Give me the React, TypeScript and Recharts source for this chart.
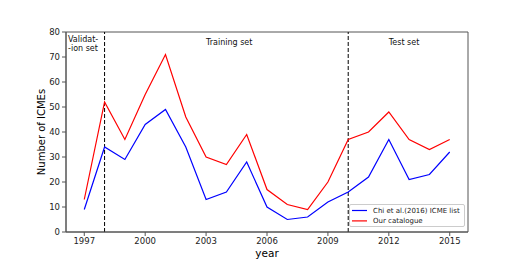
import React from "react";
import { LineChart, Line, XAxis, YAxis, ReferenceLine, ReferenceDot, ReferenceArea, Label } from "recharts";

const years = [1997, 1998, 1999, 2000, 2001, 2002, 2003, 2004, 2005, 2006, 2007, 2008, 2009, 2010, 2011, 2012, 2013, 2014, 2015];
const chiList = [9, 34, 29, 43, 49, 34, 13, 16, 28, 10, 5, 6, 12, 16, 22, 37, 21, 23, 32];
const ourCatalogue = [13, 52, 37, 55, 71, 46, 30, 27, 39, 17, 11, 9, 20, 37, 40, 48, 37, 33, 37];
const xTicks = [1997, 2000, 2003, 2006, 2009, 2012, 2015];
const yTicks = [0, 10, 20, 30, 40, 50, 60, 70, 80];
const splitYears = [1998, 2010];
const xDomain = [1996.1, 2015.9];
const yDomain = [0, 80];
const annotations = [
  { x: 1996.2, y: 72.4, lines: ["Validat-", "-ion set"] },
  { x: 2003, y: 75, lines: ["Training set"] },
  { x: 2012, y: 75, lines: ["Test set"] },
];
const seriesNames = ["Chi et al.(2016) ICME list", "Our catalogue"];
const seriesColors = ["#0000ff", "#ff0000"];

const data = years.map((y, i) => ({ year: y, chi: chiList[i], ours: ourCatalogue[i] }));

const FONT = "DejaVu Sans";
const AXIS = "#555";

const LegendBox = () => (
  <div
    style={{
      position: "absolute",
      left: 349,
      top: 204,
      border: "1px solid #ccc",
      borderRadius: 2,
      background: "rgba(255,255,255,0.8)",
      width: 116,
      height: 23,
      boxSizing: "border-box",
    }}
  >
    <svg width={114} height={21} style={{ position: "absolute", left: 0, top: 0 }}>
      {seriesNames.map((n, i) => (
        <g key={n}>
          <line x1={2} x2={17} y1={5.5 + i * 10.4} y2={5.5 + i * 10.4} stroke={seriesColors[i]} strokeWidth={1.2} />
          <text x={23} y={5.5 + i * 10.4} dominantBaseline="central" fontSize={7} fontFamily={FONT} fill="#222">
            {n}
          </text>
        </g>
      ))}
    </svg>
  </div>
);

export default function App() {
  return (
    <div style={{ position: "absolute", left: 0, top: 0, width: 521, height: 261 }}>
      <LineChart width={521} height={261} data={data} margin={{ top: 32, right: 53, bottom: 0, left: 0 }}>
        <XAxis
          dataKey="year"
          type="number"
          domain={xDomain}
          ticks={xTicks}
          interval={0}
          allowDataOverflow
          height={29}
          tickSize={4}
          tickMargin={2}
          stroke={AXIS}
          tick={{ fill: "#222", fontSize: 8.5, fontFamily: FONT }}
        >
          <Label
            content={(p: any) => {
              const vb = p.viewBox;
              return (
                <text x={vb.x + vb.width / 2} y={vb.y + vb.height - 4} textAnchor="middle" fontSize={10.5} fontFamily={FONT} fill="#000">
                  year
                </text>
              );
            }}
          />
        </XAxis>
        <YAxis
          type="number"
          domain={yDomain}
          ticks={yTicks}
          interval={0}
          width={66}
          tickSize={4}
          tickMargin={2}
          stroke={AXIS}
          tick={{ fill: "#222", fontSize: 8.5, fontFamily: FONT }}
        >
          <Label
            content={(p: any) => {
              const vb = p.viewBox;
              const cx = 41;
              const cy = vb.y + vb.height / 2;
              return (
                <text x={cx} y={cy} transform={`rotate(-90 ${cx} ${cy})`} textAnchor="middle" dominantBaseline="central" fontSize={10} fontFamily={FONT} fill="#000">
                  Number of ICMEs
                </text>
              );
            }}
          />
        </YAxis>
        <ReferenceArea x1={xDomain[0]} x2={xDomain[1]} y1={yDomain[0]} y2={yDomain[1]} fill="none" fillOpacity={0} stroke={AXIS} strokeWidth={1} ifOverflow="visible" />
        {splitYears.map((x) => (
          <ReferenceLine key={x} x={x} stroke="#000" strokeWidth={1} strokeDasharray="4 2" />
        ))}
        <Line dataKey="chi" stroke={seriesColors[0]} strokeWidth={1.2} dot={false} isAnimationActive={false} />
        <Line dataKey="ours" stroke={seriesColors[1]} strokeWidth={1.2} dot={false} isAnimationActive={false} />
        {annotations.map((a) => (
          <ReferenceDot
            key={a.lines[0]}
            x={a.x}
            y={a.y}
            r={0}
            fill="none"
            stroke="none"
            label={{
              content: (p: any) => {
                const vb = p.viewBox;
                const n = a.lines.length;
                return (
                  <g>
                    {a.lines.map((l, i) => (
                      <text key={i} x={vb.x} y={vb.y - (n - 1 - i) * 9} fontSize={8} fontFamily={FONT} fill="#111">
                        {l}
                      </text>
                    ))}
                  </g>
                );
              },
            }}
          />
        ))}
      </LineChart>
      <LegendBox />
    </div>
  );
}
